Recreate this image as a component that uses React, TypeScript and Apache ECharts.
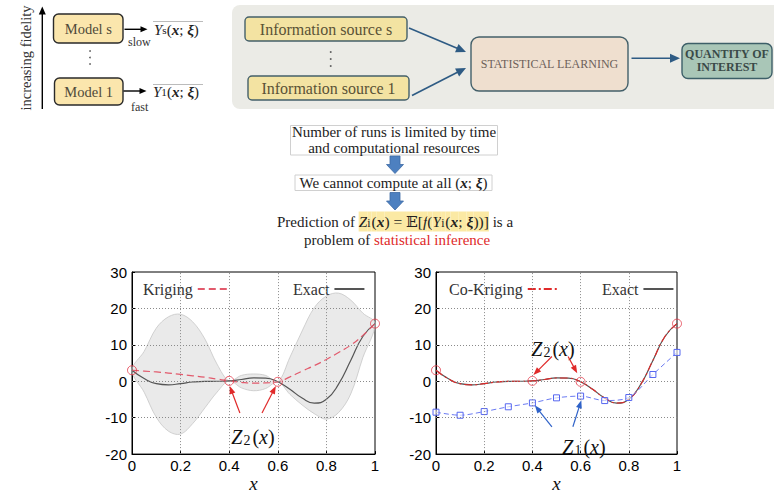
import React, { useEffect, useRef } from "react";
import * as echarts from "echarts";

const SERIF = "'Liberation Serif', 'DejaVu Serif', serif";
const SANS = "'Liberation Sans', Arial, sans-serif";

// ---------- data ----------
const xFine = [0, 0.05, 0.1, 0.15, 0.2, 0.25, 0.3, 0.35, 0.4, 0.45, 0.5, 0.55, 0.6, 0.65, 0.7, 0.75, 0.8, 0.85, 0.9, 0.95, 1];
const exactValues = [3.03, 0.74, -0.66, -0.98, -0.64, -0.21, -0.02, 0.0, 0.11, 0.48, 0.91, 0.87, -0.15, -2.21, -4.61, -5.99, -4.95, -0.8, 5.71, 12.3, 15.83];
const krigingMean = [3.03, 2.8, 2.55, 2.25, 1.9, 1.5, 1.1, 0.6, 0.11, -0.3, -0.5, -0.45, -0.15, 1.2, 2.8, 4.3, 6.0, 7.9, 9.9, 12.6, 15.83];
const bandUpper = [3.03, 8.2, 14.6, 17.7, 18.4, 16.3, 11.6, 4.7, 0.11, 1.6, 2.0, 1.6, -0.15, 6.6, 13.8, 20.2, 23.4, 24.2, 22.3, 18.7, 15.83];
const bandLower = [3.03, -3.0, -9.9, -13.7, -14.5, -11.6, -7.3, -3.0, 0.11, -1.8, -2.6, -2.0, -0.15, -3.6, -6.5, -8.9, -10.4, -8.6, -3.5, 6.5, 15.83];
const coKrigingValues = [3.03, 0.74, -0.66, -0.98, -0.64, -0.21, -0.02, 0.0, 0.11, 0.48, 0.91, 0.87, -0.15, -2.21, -4.61, -5.95, -4.95, -0.8, 5.71, 12.3, 15.83];
const lfX = [0, 0.1, 0.2, 0.3, 0.4, 0.5, 0.6, 0.7, 0.8, 0.9, 1];
const lowFidelity = [-8.49, -9.33, -8.32, -7.01, -5.94, -4.55, -4.07, -5.3, -4.47, 1.86, 7.92];
const hfX = [0, 0.4, 0.6, 1];
const hfValues = [3.03, 0.11, -0.15, 15.83];
const xTicks = { min: 0, max: 1, interval: 0.2 };
const yTicks = { min: -20, max: 30, interval: 10 };
const xGridValues = [0.2, 0.4, 0.6, 0.8];
const yGridValues = [-10, 0, 10, 20];

// annotation arrows, in data coordinates: [grid, from, to, colour]
const annotationArrows: [number, number[], number[], string][] = [
  [0, [0.444, -8.7], [0.402, -1.3], "#e02a2a"],
  [0, [0.535, -8.7], [0.592, -1.3], "#e02a2a"],
  [1, [0.481, 6.8], [0.404, 1.7], "#e02a2a"],
  [1, [0.548, 6.8], [0.586, 2.2], "#e02a2a"],
  [1, [0.481, -12.5], [0.41, -6.6], "#2f62c8"],
  [1, [0.568, -12.5], [0.603, -5.2], "#2f62c8"],
];

const pairs = (xs: number[], ys: number[]) => xs.map((x, i) => [x, ys[i]]);

function arrow(x1: number, y1: number, x2: number, y2: number, color: string, lw: number, hl: number, hw: number, z = 10) {
  const dx = x2 - x1, dy = y2 - y1;
  const len = Math.sqrt(dx * dx + dy * dy);
  const ux = dx / len, uy = dy / len;
  const bx = x2 - ux * hl, by = y2 - uy * hl;
  const nx = -uy, ny = ux;
  return {
    type: "group",
    z,
    children: [
      { type: "line", z, shape: { x1, y1, x2: bx + ux * 1, y2: by + uy * 1 }, style: { stroke: color, lineWidth: lw } },
      {
        type: "polygon",
        z,
        shape: { points: [[x2, y2], [bx + nx * hw, by + ny * hw], [bx - nx * hw, by - ny * hw]] },
        style: { fill: color },
      },
    ],
  };
}

function blockArrow(cx: number, y0: number, y1: number, y2: number) {
  return {
    type: "polygon",
    z: 10,
    shape: {
      points: [
        [cx - 5, y0], [cx + 5, y0], [cx + 5, y1], [cx + 8.5, y1], [cx, y2], [cx - 8.5, y1], [cx - 5, y1],
      ],
    },
    style: { fill: "#4d80c0", stroke: "#3c6aa5", lineWidth: 0.8 },
  };
}

const txt = (x: number, y: number, text: string, size: number, fill: string, align = "center", extra: any = {}) => ({
  type: "text",
  x,
  y,
  z: 12,
  style: { text, fontFamily: SERIF, fontSize: size, fill, align, verticalAlign: "middle", ...extra },
});

const mathRich = (size: number, fill = "#222", bg?: string) => {
  const base: any = { fontFamily: SERIF, fontSize: size, fill };
  if (bg) base.backgroundColor = bg;
  return {
    n: { ...base },
    i: { ...base, fontStyle: "italic" },
    b: { ...base, fontStyle: "italic", fontWeight: "bold" },
    s: { ...base, fontSize: size * 0.75 },
  };
};

function buildGraphic(extra: any[]) {
  const g: any[] = [];
  // ---- left diagram ----
  g.push(arrow(42.3, 109, 42.3, 6.5, "#000", 1.4, 8, 3.5));
  g.push({
    type: "text", x: 26, y: 58, rotation: Math.PI / 2, z: 12,
    style: { text: "increasing fidelity", fontFamily: SERIF, fontSize: 14.5, fill: "#333", align: "center", verticalAlign: "middle" },
  });
  g.push({ type: "rect", z: 9, shape: { x: 53.5, y: 14, width: 69.5, height: 29, r: 5 }, style: { fill: "#fbe6ad", stroke: "#2a2a2a", lineWidth: 1.4 } });
  g.push(txt(88.3, 29, "Model s", 14.5, "#4f4a3a"));
  g.push({ type: "rect", z: 9, shape: { x: 54.5, y: 78, width: 68.5, height: 27, r: 5 }, style: { fill: "#fbe6ad", stroke: "#2a2a2a", lineWidth: 1.4 } });
  g.push(txt(88.7, 91.5, "Model 1", 14.5, "#4f4a3a"));
  g.push(arrow(124.5, 29.3, 147.5, 29.3, "#000", 1.4, 7, 3));
  g.push(arrow(123.5, 91, 146.5, 91, "#000", 1.4, 7, 3));
  g.push({ type: "line", z: 9, shape: { x1: 153, y1: 21.5, x2: 203, y2: 21.5 }, style: { stroke: "#bbb", lineWidth: 1 } });
  g.push({ type: "line", z: 9, shape: { x1: 153, y1: 84.5, x2: 203, y2: 84.5 }, style: { stroke: "#bbb", lineWidth: 1 } });
  g.push({
    type: "text", x: 154, y: 30, z: 12,
    style: { text: "{i|Y}{s|s}{n|(}{b|x}{n|; }{b|ξ}{n|)}", align: "left", verticalAlign: "middle", rich: mathRich(15) },
  });
  g.push({
    type: "text", x: 153, y: 91.5, z: 12,
    style: { text: "{i|Y}{s|1}{n|(}{b|x}{n|; }{b|ξ}{n|)}", align: "left", verticalAlign: "middle", rich: mathRich(15) },
  });
  g.push(txt(128, 42, "slow", 12, "#333", "left"));
  g.push(txt(131, 106.5, "fast", 12, "#333", "left"));
  [51, 57.5, 64].forEach((y) => g.push({ type: "circle", z: 10, shape: { cx: 90, cy: y, r: 0.8 }, style: { fill: "#555" } }));

  // ---- right diagram ----
  g.push({ type: "rect", z: 1, shape: { x: 232, y: 5, width: 580, height: 104, r: 8 }, style: { fill: "#ebebe6" } });
  g.push({ type: "rect", z: 9, shape: { x: 245, y: 17, width: 162, height: 24, r: 4 }, style: { fill: "#f3e3a2", stroke: "#44606a", lineWidth: 1.4 } });
  g.push(txt(326, 29.5, "Information source s", 16, "#5a5236"));
  [52, 59, 66].forEach((y) => g.push({ type: "circle", z: 10, shape: { cx: 330.7, cy: y, r: 0.9 }, style: { fill: "#555" } }));
  g.push({ type: "rect", z: 9, shape: { x: 248, y: 76, width: 161, height: 24, r: 4 }, style: { fill: "#f3e3a2", stroke: "#44606a", lineWidth: 1.4 } });
  g.push(txt(328.5, 88.5, "Information source 1", 16, "#5a5236"));
  g.push(arrow(409, 28, 466, 52, "#2e5b84", 1.6, 10, 4.5));
  g.push(arrow(412, 95.5, 466, 68, "#2e5b84", 1.6, 10, 4.5));
  g.push({ type: "rect", z: 9, shape: { x: 471, y: 37, width: 157, height: 54, r: 8 }, style: { fill: "#efdfcf", stroke: "#44606a", lineWidth: 1.4 } });
  g.push(txt(549.5, 64, "STATISTICAL LEARNING", 12, "#6d5f5a"));
  g.push(arrow(631.5, 58.3, 680, 58.3, "#2e5b84", 1.6, 10, 4.5));
  g.push({ type: "rect", z: 9, shape: { x: 682, y: 43.5, width: 90, height: 35, r: 6 }, style: { fill: "#a9c6b7", stroke: "#3d5f68", lineWidth: 1.4 } });
  g.push(txt(727, 54, "QUANTITY OF", 12, "#3a4a48", "center", { fontWeight: "bold" }));
  g.push(txt(727, 67, "INTEREST", 12, "#3a4a48", "center", { fontWeight: "bold" }));

  // ---- middle text ----
  g.push({ type: "rect", z: 8, shape: { x: 290.5, y: 125.5, width: 207, height: 29.5 }, style: { fill: "#fff", stroke: "#d0d0d0", lineWidth: 1 } });
  g.push(txt(394, 132, "Number of runs is limited by time", 15, "#222"));
  g.push(txt(394, 148, "and computational resources", 15, "#222"));
  g.push(blockArrow(395, 156, 164.5, 173.5));
  g.push({ type: "rect", z: 8, shape: { x: 295, y: 175, width: 197, height: 15.5 }, style: { fill: "#fff", stroke: "#d0d0d0", lineWidth: 1 } });
  g.push({
    type: "text", x: 393.5, y: 183, z: 12,
    style: { text: "{n|We cannot compute at all (}{b|x}{n|; }{b|ξ}{n|)}", align: "center", verticalAlign: "middle", rich: mathRich(15) },
  });
  g.push(blockArrow(395, 192.5, 201, 210));
  const hl = mathRich(15.5, "#222", "#fbe9a4");
  g.push({
    type: "text", x: 277, y: 221.5, z: 12,
    style: {
      text: "{n|Prediction of }{hi|Z}{hs|i}{hn|(}{hb|x}{hn|) = }{hn|𝔼[}{hi|f}{hn|(}{hi|Y}{hs|i}{hn|(}{hb|x}{hn|; }{hb|ξ}{hn|))]}{n| is a}",
      align: "left",
      verticalAlign: "middle",
      rich: {
        ...mathRich(15),
        hn: { ...hl.n, padding: [2, 0, 2, 0] },
        hi: { ...hl.i, padding: [2, 0, 2, 0] },
        hb: { ...hl.b, padding: [2, 0, 2, 0] },
        hs: { ...hl.s, padding: [6, 1, 2, 0] },
      },
    },
  });
  g.push({
    type: "text", x: 304, y: 240, z: 12,
    style: {
      text: "{n|problem of }{r|statistical inference}",
      align: "left",
      verticalAlign: "middle",
      rich: { n: { fontFamily: SERIF, fontSize: 15, fill: "#222" }, r: { fontFamily: SERIF, fontSize: 15, fill: "#e02a2a" } },
    },
  });

  // ---- chart annotations ----
  const zRich = {
    i: { fontFamily: SERIF, fontSize: 20, fontStyle: "italic", fill: "#111" },
    n: { fontFamily: SERIF, fontSize: 20, fill: "#111" },
    s: { fontFamily: SERIF, fontSize: 14, fill: "#111", padding: [6, 2, 0, 1] },
  };
  g.push({ type: "text", x: 253, y: 437, z: 20, style: { text: "{i|Z}{s|2}{n|(}{i|x}{n|)}", align: "center", verticalAlign: "middle", rich: zRich } });
  g.push({ type: "text", x: 553, y: 349, z: 20, style: { text: "{i|Z}{s|2}{n|(}{i|x}{n|)}", align: "center", verticalAlign: "middle", rich: zRich } });
  g.push({ type: "text", x: 584, y: 447, z: 20, style: { text: "{i|Z}{s|1}{n|(}{i|x}{n|)}", align: "center", verticalAlign: "middle", rich: zRich } });
  return g.concat(extra);
}

const gridMarkLine = () => ({
  silent: true,
  symbol: ["none", "none"],
  label: { show: false },
  lineStyle: { color: "#8a8a8a", type: [1, 2], width: 1 },
  data: [...xGridValues.map((v) => ({ xAxis: v })), ...yGridValues.map((v) => ({ yAxis: v }))],
});

export default function App() {
  const ref = useRef<HTMLDivElement>(null);
  useEffect(() => {
    document.body.style.margin = "0";
    const chart = echarts.init(ref.current!, null, { renderer: "svg" });
    const axisLabel = () => ({ fontFamily: SANS, fontSize: 15, color: "#000" });
    const splitLine = () => ({ show: false });
    const axisTick = () => ({ show: true, inside: true, length: 3, lineStyle: { color: "#000", width: 1 } });
    const xAxisBase = (gi: number) => ({
      type: "value",
      gridIndex: gi,
      ...xTicks,
      name: "x",
      nameLocation: "middle",
      nameGap: 9,
      nameTextStyle: { fontFamily: SERIF, fontStyle: "italic", fontSize: 19, color: "#111" },
      axisLine: { show: true, onZero: false, lineStyle: { color: "#000", width: 1 } },
      axisTick: axisTick(),
      axisLabel: { ...axisLabel(), margin: 4, formatter: (v: number) => String(Math.round(v * 10) / 10) },
      splitLine: splitLine(),
    });
    const yAxisBase = (gi: number) => ({
      type: "value",
      gridIndex: gi,
      ...yTicks,
      axisLine: { show: true, onZero: false, lineStyle: { color: "#000", width: 1 } },
      axisTick: axisTick(),
      axisLabel: { ...axisLabel(), margin: 5 },
      splitLine: splitLine(),
    });
    const legendBase = () => ({
      align: "right",
      itemWidth: 30,
      itemHeight: 12,
      padding: 0,
      selectedMode: false,
      itemStyle: { opacity: 0 },
      textStyle: { fontFamily: SERIF, fontSize: 16, color: "#333" },
    });
    chart.setOption({
      animation: false,
      grid: [
        { left: 132, top: 272, width: 243, height: 194, show: true, borderColor: "#000", borderWidth: 1, backgroundColor: "transparent" },
        { left: 436, top: 272, width: 241, height: 194, show: true, borderColor: "#000", borderWidth: 1, backgroundColor: "transparent" },
      ],
      xAxis: [xAxisBase(0), xAxisBase(1)],
      yAxis: [yAxisBase(0), yAxisBase(1)],
      legend: [
        { ...legendBase(), data: ["Kriging"], left: 143, top: 281 },
        { ...legendBase(), data: ["Exact"], left: 293, top: 281 },
        { ...legendBase(), data: ["Co-Kriging"], left: 449, top: 281 },
        { ...legendBase(), data: ["Exact"], left: 602, top: 281 },
      ],
      series: [
        {
          type: "custom", name: "band", xAxisIndex: 0, yAxisIndex: 0, silent: true, z: 1,
          data: [[0, 0]],
          renderItem: (_p: any, api: any) => {
            const up = xFine.map((x, i) => api.coord([x, bandUpper[i]]));
            const lo: number[][] = [];
            for (let i = xFine.length - 2; i >= 1; i--) lo.push(api.coord([xFine[i], bandLower[i]]));
            return {
              type: "polygon",
              shape: { points: up.concat(lo), smooth: 0.35 },
              style: { fill: "rgba(190,190,190,0.32)", stroke: "#c6c6c6", lineWidth: 0.8 },
            };
          },
          markLine: gridMarkLine(),
        },
        {
          type: "line", name: "Exact", xAxisIndex: 0, yAxisIndex: 0, data: pairs(xFine, exactValues),
          smooth: true, symbol: "none", z: 3, lineStyle: { color: "#555", width: 1.2 },
        },
        {
          type: "line", name: "Kriging", xAxisIndex: 0, yAxisIndex: 0, data: pairs(xFine, krigingMean),
          smooth: true, symbol: "none", z: 4, lineStyle: { color: "#e25a6c", width: 1.2, type: [7, 4] },
        },
        {
          type: "scatter", name: "hfLeft", xAxisIndex: 0, yAxisIndex: 0, data: pairs(hfX, hfValues), z: 5,
          symbol: "circle", symbolSize: 9,
          itemStyle: { color: "rgba(0,0,0,0)", borderColor: "#e33848", borderWidth: 1 },
        },
        {
          type: "line", name: "Exact", xAxisIndex: 1, yAxisIndex: 1, data: pairs(xFine, exactValues),
          smooth: true, symbol: "none", z: 3, lineStyle: { color: "#555", width: 1.2 },
          markLine: gridMarkLine(),
        },
        {
          type: "line", name: "Co-Kriging", xAxisIndex: 1, yAxisIndex: 1, data: pairs(xFine, coKrigingValues),
          smooth: true, symbol: "none", z: 4, lineStyle: { color: "#e02a2a", width: 1.1, type: [8, 3, 2, 3] },
        },
        {
          type: "line", name: "lowFidelity", xAxisIndex: 1, yAxisIndex: 1, data: pairs(lfX, lowFidelity),
          smooth: 0.3, symbol: "rect", symbolSize: 6, z: 4,
          itemStyle: { color: "rgba(255,255,255,0.6)", borderColor: "#5566f0", borderWidth: 1 },
          lineStyle: { color: "#6a7af2", width: 1, type: [5, 3] },
        },
        {
          type: "scatter", name: "hfRight", xAxisIndex: 1, yAxisIndex: 1, data: pairs(hfX, hfValues), z: 5,
          symbol: "circle", symbolSize: 9,
          itemStyle: { color: "rgba(0,0,0,0)", borderColor: "#e33848", borderWidth: 1 },
        },
      ],
    });
    const arrows = annotationArrows.map(([gi, from, to, color]) => {
      const a = chart.convertToPixel({ gridIndex: gi } as any, from) as number[];
      const b = chart.convertToPixel({ gridIndex: gi } as any, to) as number[];
      return arrow(a[0], a[1], b[0], b[1], color, 1.2, 8, 3, 20);
    });
    chart.setOption({ graphic: buildGraphic(arrows) });
    return () => chart.dispose();
  }, []);
  return <div ref={ref} style={{ width: 774, height: 494 }} />;
}
